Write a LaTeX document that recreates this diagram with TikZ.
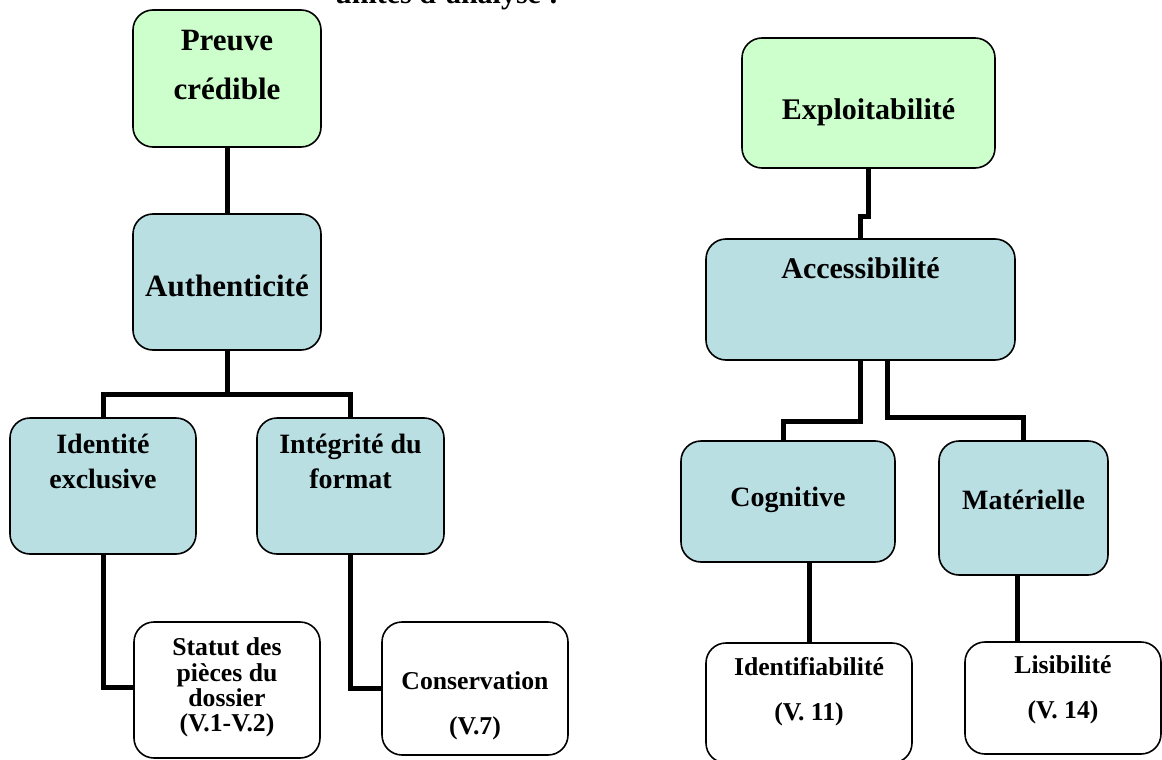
\documentclass[tikz,border=0pt]{standalone}
\usepackage{fontspec}
\setmainfont{Liberation Serif}
\definecolor{boxgreen}{HTML}{CCFFCC}
\definecolor{boxblue}{HTML}{B9DFE3}
\tikzset{
  box/.style={draw=black, line width=1.6pt, rounded corners=20pt, inner sep=0pt},
  txt/.style={inner sep=0pt, align=center},
  conn/.style={draw=black, line width=5pt, line join=miter, line cap=butt},
}
\newcommand\fsz[2]{\bfseries\fontsize{#1}{#2}\selectfont}
\begin{document}
\begin{tikzpicture}[x=1pt,y=-1pt]
\useasboundingbox (0,0) rectangle (1162,760);
% title (clipped at top, as in the reference)
\node[inner sep=0pt, anchor=base west, font=\fsz{30}{36}] (T) at (335,4) {unités d'analyse :};

% ---------- left tree ----------
\node[box, fill=boxgreen, minimum width=188pt, minimum height=137pt] (P) at (227,78.5) {};
\node[txt, font=\fsz{31}{49}] (Pt) at (227,65) {Preuve\\crédible};

\node[box, fill=boxblue, minimum width=188pt, minimum height=136pt] (A) at (227,282) {};
\node[txt, font=\fsz{31}{37}] (At) at (227,285.5) {Authenticité};

\node[box, fill=boxblue, minimum width=186pt, minimum height=136pt] (IE) at (103,486) {};
\node[txt, font=\fsz{28}{35}] (IEt) at (103,461.5) {Identité\\exclusive};

\node[box, fill=boxblue, minimum width=187pt, minimum height=136pt] (IF) at (350.5,486) {};
\node[txt, font=\fsz{28}{35}] (IFt) at (350.5,461.5) {Intégrité du\\format};

\node[box, fill=white, minimum width=186pt, minimum height=136pt] (SP) at (227,690) {};
\node[txt, font=\fsz{25.7}{25.3}] (SPt) at (227,687.5) {Statut des\\pièces du\\dossier\\(V.1-V.2)};

\node[box, fill=white, minimum width=186pt, minimum height=133pt] (CO) at (475,688.5) {};
\node[txt, font=\fsz{25.7}{45}] (COt) at (475,705.5) {Conservation\\(V.7)};

% ---------- right tree ----------
\node[box, fill=boxgreen, minimum width=253pt, minimum height=130pt] (E) at (868.5,103) {};
\node[txt, font=\fsz{30}{36}] (Et) at (868.5,112) {Exploitabilité};

\node[box, fill=boxblue, minimum width=309pt, minimum height=121pt] (AC) at (860.5,299.5) {};
\node[txt, font=\fsz{30}{36}] (ACt) at (860.5,268) {Accessibilité};

\node[box, fill=boxblue, minimum width=214pt, minimum height=121pt] (CG) at (788,501.5) {};
\node[txt, font=\fsz{28}{34}] (CGt) at (788,500) {Cognitive};

\node[box, fill=boxblue, minimum width=169pt, minimum height=134pt] (MA) at (1023.5,508) {};
\node[txt, font=\fsz{28}{34}] (MAt) at (1023.5,500) {Matérielle};

\node[box, fill=white, minimum width=206pt, minimum height=120pt] (ID) at (809,703) {};
\node[txt, font=\fsz{25.7}{45}] (IDt) at (809,691.5) {Identifiabilité\\(V. 11)};

\node[box, fill=white, minimum width=196pt, minimum height=112pt] (LI) at (1063,698) {};
\node[txt, font=\fsz{25.7}{45}] (LIt) at (1063,689.5) {Lisibilité\\(V. 14)};

% ---------- connectors left ----------
\draw[conn] (P.south) -- (A.north);
\draw[conn] (A.south) -- ++(0,44) coordinate (j1);
\draw[conn] (IE.north) |- (j1) -| (IF.north);
\draw[conn] (IE.south) |- ([yshift=3pt]SP.west);
\draw[conn] (IF.south) |- (CO.west);

% ---------- connectors right ----------
\draw[conn] (E.south) -- ++(0,48) -| (AC.north);
\draw[conn] (AC.south) -- ++(0,61) -| ([xshift=-5pt]CG.north);
\draw[conn] ([xshift=26.5pt]AC.south) -- ++(0,57) -| (MA.north);
\draw[conn] (ID.north) -- (ID.north |- CG.south);
\draw[conn] ([xshift=-6.5pt]MA.south) -- ([xshift=-6.5pt]MA.south |- LI.north);
\end{tikzpicture}
\end{document}
